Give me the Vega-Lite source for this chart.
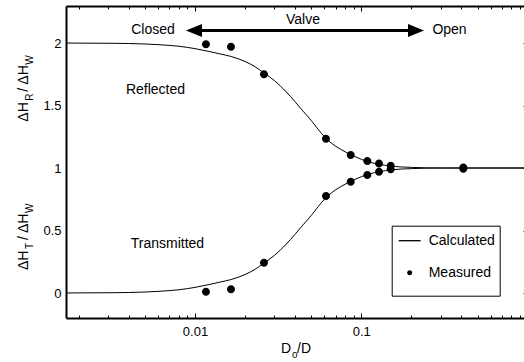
{
  "$schema": "https://vega.github.io/schema/vega-lite/v6.json",
  "width": 458,
  "height": 312,
  "autosize": {"type": "none"},
  "padding": {"left": 66, "top": 6, "right": 0, "bottom": 44},
  "background": "white",
  "config": {"view": {"stroke": null}, "font": "Liberation Sans", "axis": {"grid": false}},
  "datasets": {
    "calc": [
      {"curve": "T", "x": 0.001676, "y": 0}, {"curve": "T", "x": 0.002, "y": 0.001}, {"curve": "T", "x": 0.003, "y": 0.002},
      {"curve": "T", "x": 0.004, "y": 0.004}, {"curve": "T", "x": 0.005, "y": 0.008}, {"curve": "T", "x": 0.006, "y": 0.013},
      {"curve": "T", "x": 0.007, "y": 0.019}, {"curve": "T", "x": 0.008, "y": 0.026}, {"curve": "T", "x": 0.009, "y": 0.035},
      {"curve": "T", "x": 0.01, "y": 0.045}, {"curve": "T", "x": 0.012, "y": 0.066}, {"curve": "T", "x": 0.014, "y": 0.086},
      {"curve": "T", "x": 0.0165, "y": 0.108}, {"curve": "T", "x": 0.02, "y": 0.148}, {"curve": "T", "x": 0.023, "y": 0.19},
      {"curve": "T", "x": 0.026, "y": 0.24}, {"curve": "T", "x": 0.03, "y": 0.3}, {"curve": "T", "x": 0.035, "y": 0.385},
      {"curve": "T", "x": 0.04, "y": 0.47}, {"curve": "T", "x": 0.045, "y": 0.55}, {"curve": "T", "x": 0.05, "y": 0.62},
      {"curve": "T", "x": 0.055, "y": 0.69}, {"curve": "T", "x": 0.06, "y": 0.75}, {"curve": "T", "x": 0.07, "y": 0.825},
      {"curve": "T", "x": 0.08, "y": 0.87}, {"curve": "T", "x": 0.09, "y": 0.905}, {"curve": "T", "x": 0.1, "y": 0.93},
      {"curve": "T", "x": 0.11, "y": 0.95}, {"curve": "T", "x": 0.13, "y": 0.972}, {"curve": "T", "x": 0.15, "y": 0.985},
      {"curve": "T", "x": 0.2, "y": 0.995}, {"curve": "T", "x": 0.3, "y": 1.0}, {"curve": "T", "x": 0.5, "y": 1.0},
      {"curve": "T", "x": 0.9515, "y": 1.0},
      {"curve": "R", "x": 0.001676, "y": 2}, {"curve": "R", "x": 0.002, "y": 1.999}, {"curve": "R", "x": 0.003, "y": 1.998},
      {"curve": "R", "x": 0.004, "y": 1.996}, {"curve": "R", "x": 0.005, "y": 1.992}, {"curve": "R", "x": 0.006, "y": 1.987},
      {"curve": "R", "x": 0.007, "y": 1.981}, {"curve": "R", "x": 0.008, "y": 1.974}, {"curve": "R", "x": 0.009, "y": 1.965},
      {"curve": "R", "x": 0.01, "y": 1.955}, {"curve": "R", "x": 0.012, "y": 1.934}, {"curve": "R", "x": 0.014, "y": 1.914},
      {"curve": "R", "x": 0.0165, "y": 1.892}, {"curve": "R", "x": 0.02, "y": 1.852}, {"curve": "R", "x": 0.023, "y": 1.81},
      {"curve": "R", "x": 0.026, "y": 1.76}, {"curve": "R", "x": 0.03, "y": 1.7}, {"curve": "R", "x": 0.035, "y": 1.615},
      {"curve": "R", "x": 0.04, "y": 1.53}, {"curve": "R", "x": 0.045, "y": 1.45}, {"curve": "R", "x": 0.05, "y": 1.38},
      {"curve": "R", "x": 0.055, "y": 1.31}, {"curve": "R", "x": 0.06, "y": 1.25}, {"curve": "R", "x": 0.07, "y": 1.175},
      {"curve": "R", "x": 0.08, "y": 1.13}, {"curve": "R", "x": 0.09, "y": 1.095}, {"curve": "R", "x": 0.1, "y": 1.07},
      {"curve": "R", "x": 0.11, "y": 1.05}, {"curve": "R", "x": 0.13, "y": 1.028}, {"curve": "R", "x": 0.15, "y": 1.015},
      {"curve": "R", "x": 0.2, "y": 1.005}, {"curve": "R", "x": 0.3, "y": 1.0}, {"curve": "R", "x": 0.5, "y": 1.0},
      {"curve": "R", "x": 0.9515, "y": 1.0}
    ],
    "meas": [
      {"series": "Measured", "x": 0.01164, "y": 1.99}, {"series": "Measured", "x": 0.01646, "y": 1.97},
      {"series": "Measured", "x": 0.02599, "y": 1.75}, {"series": "Measured", "x": 0.06134, "y": 1.234},
      {"series": "Measured", "x": 0.08636, "y": 1.104}, {"series": "Measured", "x": 0.1087, "y": 1.056},
      {"series": "Measured", "x": 0.1278, "y": 1.037}, {"series": "Measured", "x": 0.1503, "y": 1.018},
      {"series": "Measured", "x": 0.4106, "y": 1.005},
      {"series": "Measured", "x": 0.01164, "y": 0.01}, {"series": "Measured", "x": 0.01646, "y": 0.03},
      {"series": "Measured", "x": 0.02599, "y": 0.242}, {"series": "Measured", "x": 0.06134, "y": 0.776},
      {"series": "Measured", "x": 0.08636, "y": 0.89}, {"series": "Measured", "x": 0.1087, "y": 0.944},
      {"series": "Measured", "x": 0.1278, "y": 0.97}, {"series": "Measured", "x": 0.1503, "y": 0.99},
      {"series": "Measured", "x": 0.4106, "y": 0.995}
    ],
    "arrow": [{"x": 0.009862, "x2": 0.2133, "y": 2.1}],
    "heads": [{"end": "left", "x": 0.009862, "y": 2.1}, {"end": "right", "x": 0.2133, "y": 2.1}],
    "notes": [
      {"t": "Closed", "x": 0.00559, "y": 2.072},
      {"t": "Valve", "x": 0.04461, "y": 2.152},
      {"t": "Open", "x": 0.3392, "y": 2.075},
      {"t": "Reflected", "x": 0.005788, "y": 1.592},
      {"t": "Transmitted", "x": 0.006823, "y": 0.3576}
    ],
    "ytmain": [
      {"t": "ΔH", "x": 0.001676, "y": 1.3704}, {"t": "/", "x": 0.001676, "y": 1.6104}, {"t": "ΔH", "x": 0.001676, "y": 1.6664},
      {"t": "ΔH", "x": 0.001676, "y": 0.184}, {"t": "/", "x": 0.001676, "y": 0.424}, {"t": "ΔH", "x": 0.001676, "y": 0.48}
    ],
    "ytsub": [
      {"t": "R", "x": 0.001676, "y": 1.5384}, {"t": "W", "x": 0.001676, "y": 1.8264},
      {"t": "T", "x": 0.001676, "y": 0.352}, {"t": "W", "x": 0.001676, "y": 0.64}
    ],
    "xtmain": [{"t": "D", "x": 0.03291, "y": -0.48}, {"t": "/D", "x": 0.04106, "y": -0.48}],
    "xtsub": [{"t": "o", "x": 0.03832, "y": -0.52}]
  },
  "layer": [
    {
      "data": {"name": "calc"},
      "mark": {"type": "line", "color": "black", "strokeWidth": 1, "interpolate": "monotone"},
      "encoding": {
        "x": {"field": "x", "type": "quantitative", "scale": {"type": "log", "domain": [0.001676, 0.9515], "nice": false},
          "axis": {"orient": "bottom", "title": null, "grid": false,
            "values": [0.002, 0.003, 0.004, 0.005, 0.006, 0.007, 0.008, 0.009, 0.01, 0.02, 0.03, 0.04, 0.05, 0.06, 0.07, 0.08, 0.09, 0.1, 0.2, 0.3, 0.4, 0.5, 0.6, 0.7, 0.8, 0.9],
            "labelExpr": "datum.value == 0.01 ? '0.01' : datum.value == 0.1 ? '0.1' : ''",
            "tickSize": {"condition": {"test": "datum.value == 0.01 || datum.value == 0.1", "value": -5}, "value": -3},
            "tickColor": "black", "tickWidth": 1, "domainColor": "black", "domainWidth": 2,
            "labelFont": "Liberation Sans", "labelFontSize": 13, "labelColor": "black", "labelPadding": 12,
            "labelOverlap": false, "labelFlush": false}},
        "y": {"field": "y", "type": "quantitative", "scale": {"domain": [-0.2, 2.296], "nice": false, "zero": false},
          "axis": {"orient": "left", "title": null, "grid": false, "values": [0, 0.5, 1, 1.5, 2], "format": "~g",
            "ticks": false, "domainColor": "black", "domainWidth": 2,
            "labelFont": "Liberation Sans", "labelFontSize": 13, "labelColor": "black", "labelPadding": 5}},
        "detail": {"field": "curve"}
      }
    },
    {
      "data": {"name": "meas"},
      "mark": {"type": "point", "filled": true, "color": "black", "size": 1210, "opacity": 1},
      "encoding": {
        "x": {"field": "x", "type": "quantitative", "scale": {"type": "log", "domain": [0.001676, 0.9515], "nice": false},
          "axis": {"orient": "top", "title": null, "grid": false, "labels": false,
            "values": [0.002, 0.003, 0.004, 0.005, 0.006, 0.007, 0.008, 0.009, 0.01, 0.02, 0.03, 0.04, 0.05, 0.06, 0.07, 0.08, 0.09, 0.1, 0.2, 0.3, 0.4, 0.5, 0.6, 0.7, 0.8, 0.9],
            "tickSize": {"condition": {"test": "datum.value == 0.01 || datum.value == 0.1", "value": -5}, "value": -3},
            "tickColor": "black", "tickWidth": 1, "domainColor": "black", "domainWidth": 2}},
        "y": {"field": "y", "type": "quantitative", "scale": {"domain": [-0.2, 2.296], "nice": false, "zero": false},
          "axis": {"orient": "right", "title": null, "grid": false, "labels": false, "values": [0, 0.5, 1, 1.5, 2],
            "tickSize": -4, "offset": 3, "tickColor": "black", "tickWidth": 1, "domainColor": "black", "domainWidth": 2}},
        "shape": {"field": "series", "type": "nominal",
          "scale": {"domain": ["Calculated", "Measured"], "range": ["M-1,-0.06H1V0.06H-1Z", "M-0.23,0A0.23,0.23,0,1,0,0.23,0A0.23,0.23,0,1,0,-0.23,0Z"]},
          "legend": {"orient": "none", "legendX": 325.7, "legendY": 219.7, "title": " ", "titleOrient": "bottom", "titleFontSize": 9, "titlePadding": 3,
            "strokeColor": "black", "padding": 4, "symbolOffset": 3,
            "symbolSize": 484, "symbolFillColor": "black", "symbolStrokeWidth": 0, "labelFont": "Liberation Sans", "labelFontSize": 14,
            "labelColor": "black", "labelOffset": 8, "rowPadding": 14}}
      }
    },
    {
      "data": {"name": "arrow"},
      "mark": {"type": "rule", "color": "black", "strokeWidth": 3},
      "encoding": {
        "x": {"field": "x", "type": "quantitative", "scale": {"type": "log", "domain": [0.001676, 0.9515], "nice": false}, "axis": null},
        "x2": {"field": "x2"},
        "y": {"field": "y", "type": "quantitative", "scale": {"domain": [-0.2, 2.296], "nice": false, "zero": false}, "axis": null}
      }
    },
    {
      "data": {"name": "heads"},
      "transform": [{"filter": "datum.end == 'left'"}],
      "mark": {"type": "point", "filled": true, "color": "black", "opacity": 1, "size": 256, "shape": "M-1,0L1,-0.8L1,0.8Z"},
      "encoding": {
        "x": {"field": "x", "type": "quantitative", "scale": {"type": "log", "domain": [0.001676, 0.9515], "nice": false}, "axis": null},
        "y": {"field": "y", "type": "quantitative", "scale": {"domain": [-0.2, 2.296], "nice": false, "zero": false}, "axis": null}
      }
    },
    {
      "data": {"name": "heads"},
      "transform": [{"filter": "datum.end == 'right'"}],
      "mark": {"type": "point", "filled": true, "color": "black", "opacity": 1, "size": 256, "shape": "M1,0L-1,-0.8L-1,0.8Z"},
      "encoding": {
        "x": {"field": "x", "type": "quantitative", "scale": {"type": "log", "domain": [0.001676, 0.9515], "nice": false}, "axis": null},
        "y": {"field": "y", "type": "quantitative", "scale": {"domain": [-0.2, 2.296], "nice": false, "zero": false}, "axis": null}
      }
    },
    {
      "data": {"name": "notes"},
      "mark": {"type": "text", "font": "Liberation Sans", "fontSize": 14, "color": "black", "align": "center", "baseline": "alphabetic"},
      "encoding": {
        "x": {"field": "x", "type": "quantitative", "scale": {"type": "log", "domain": [0.001676, 0.9515], "nice": false}, "axis": null},
        "y": {"field": "y", "type": "quantitative", "scale": {"domain": [-0.2, 2.296], "nice": false, "zero": false}, "axis": null},
        "text": {"field": "t"}
      }
    },
    {
      "data": {"name": "ytmain"},
      "mark": {"type": "text", "font": "Liberation Sans", "fontSize": 14, "color": "black", "align": "left", "baseline": "alphabetic", "angle": 270, "dy": -38},
      "encoding": {
        "x": {"field": "x", "type": "quantitative", "scale": {"type": "log", "domain": [0.001676, 0.9515], "nice": false}, "axis": null},
        "y": {"field": "y", "type": "quantitative", "scale": {"domain": [-0.2, 2.296], "nice": false, "zero": false}, "axis": null},
        "text": {"field": "t"}
      }
    },
    {
      "data": {"name": "ytsub"},
      "mark": {"type": "text", "font": "Liberation Sans", "fontSize": 10, "color": "black", "align": "left", "baseline": "alphabetic", "angle": 270, "dy": -33},
      "encoding": {
        "x": {"field": "x", "type": "quantitative", "scale": {"type": "log", "domain": [0.001676, 0.9515], "nice": false}, "axis": null},
        "y": {"field": "y", "type": "quantitative", "scale": {"domain": [-0.2, 2.296], "nice": false, "zero": false}, "axis": null},
        "text": {"field": "t"}
      }
    },
    {
      "data": {"name": "xtmain"},
      "mark": {"type": "text", "font": "Liberation Sans", "fontSize": 14, "color": "black", "align": "left", "baseline": "alphabetic"},
      "encoding": {
        "x": {"field": "x", "type": "quantitative", "scale": {"type": "log", "domain": [0.001676, 0.9515], "nice": false}, "axis": null},
        "y": {"field": "y", "type": "quantitative", "scale": {"domain": [-0.2, 2.296], "nice": false, "zero": false}, "axis": null},
        "text": {"field": "t"}
      }
    },
    {
      "data": {"name": "xtsub"},
      "mark": {"type": "text", "font": "Liberation Sans", "fontSize": 10, "color": "black", "align": "left", "baseline": "alphabetic"},
      "encoding": {
        "x": {"field": "x", "type": "quantitative", "scale": {"type": "log", "domain": [0.001676, 0.9515], "nice": false}, "axis": null},
        "y": {"field": "y", "type": "quantitative", "scale": {"domain": [-0.2, 2.296], "nice": false, "zero": false}, "axis": null},
        "text": {"field": "t"}
      }
    }
  ],
  "resolve": {"axis": {"x": "independent", "y": "independent"}}
}
